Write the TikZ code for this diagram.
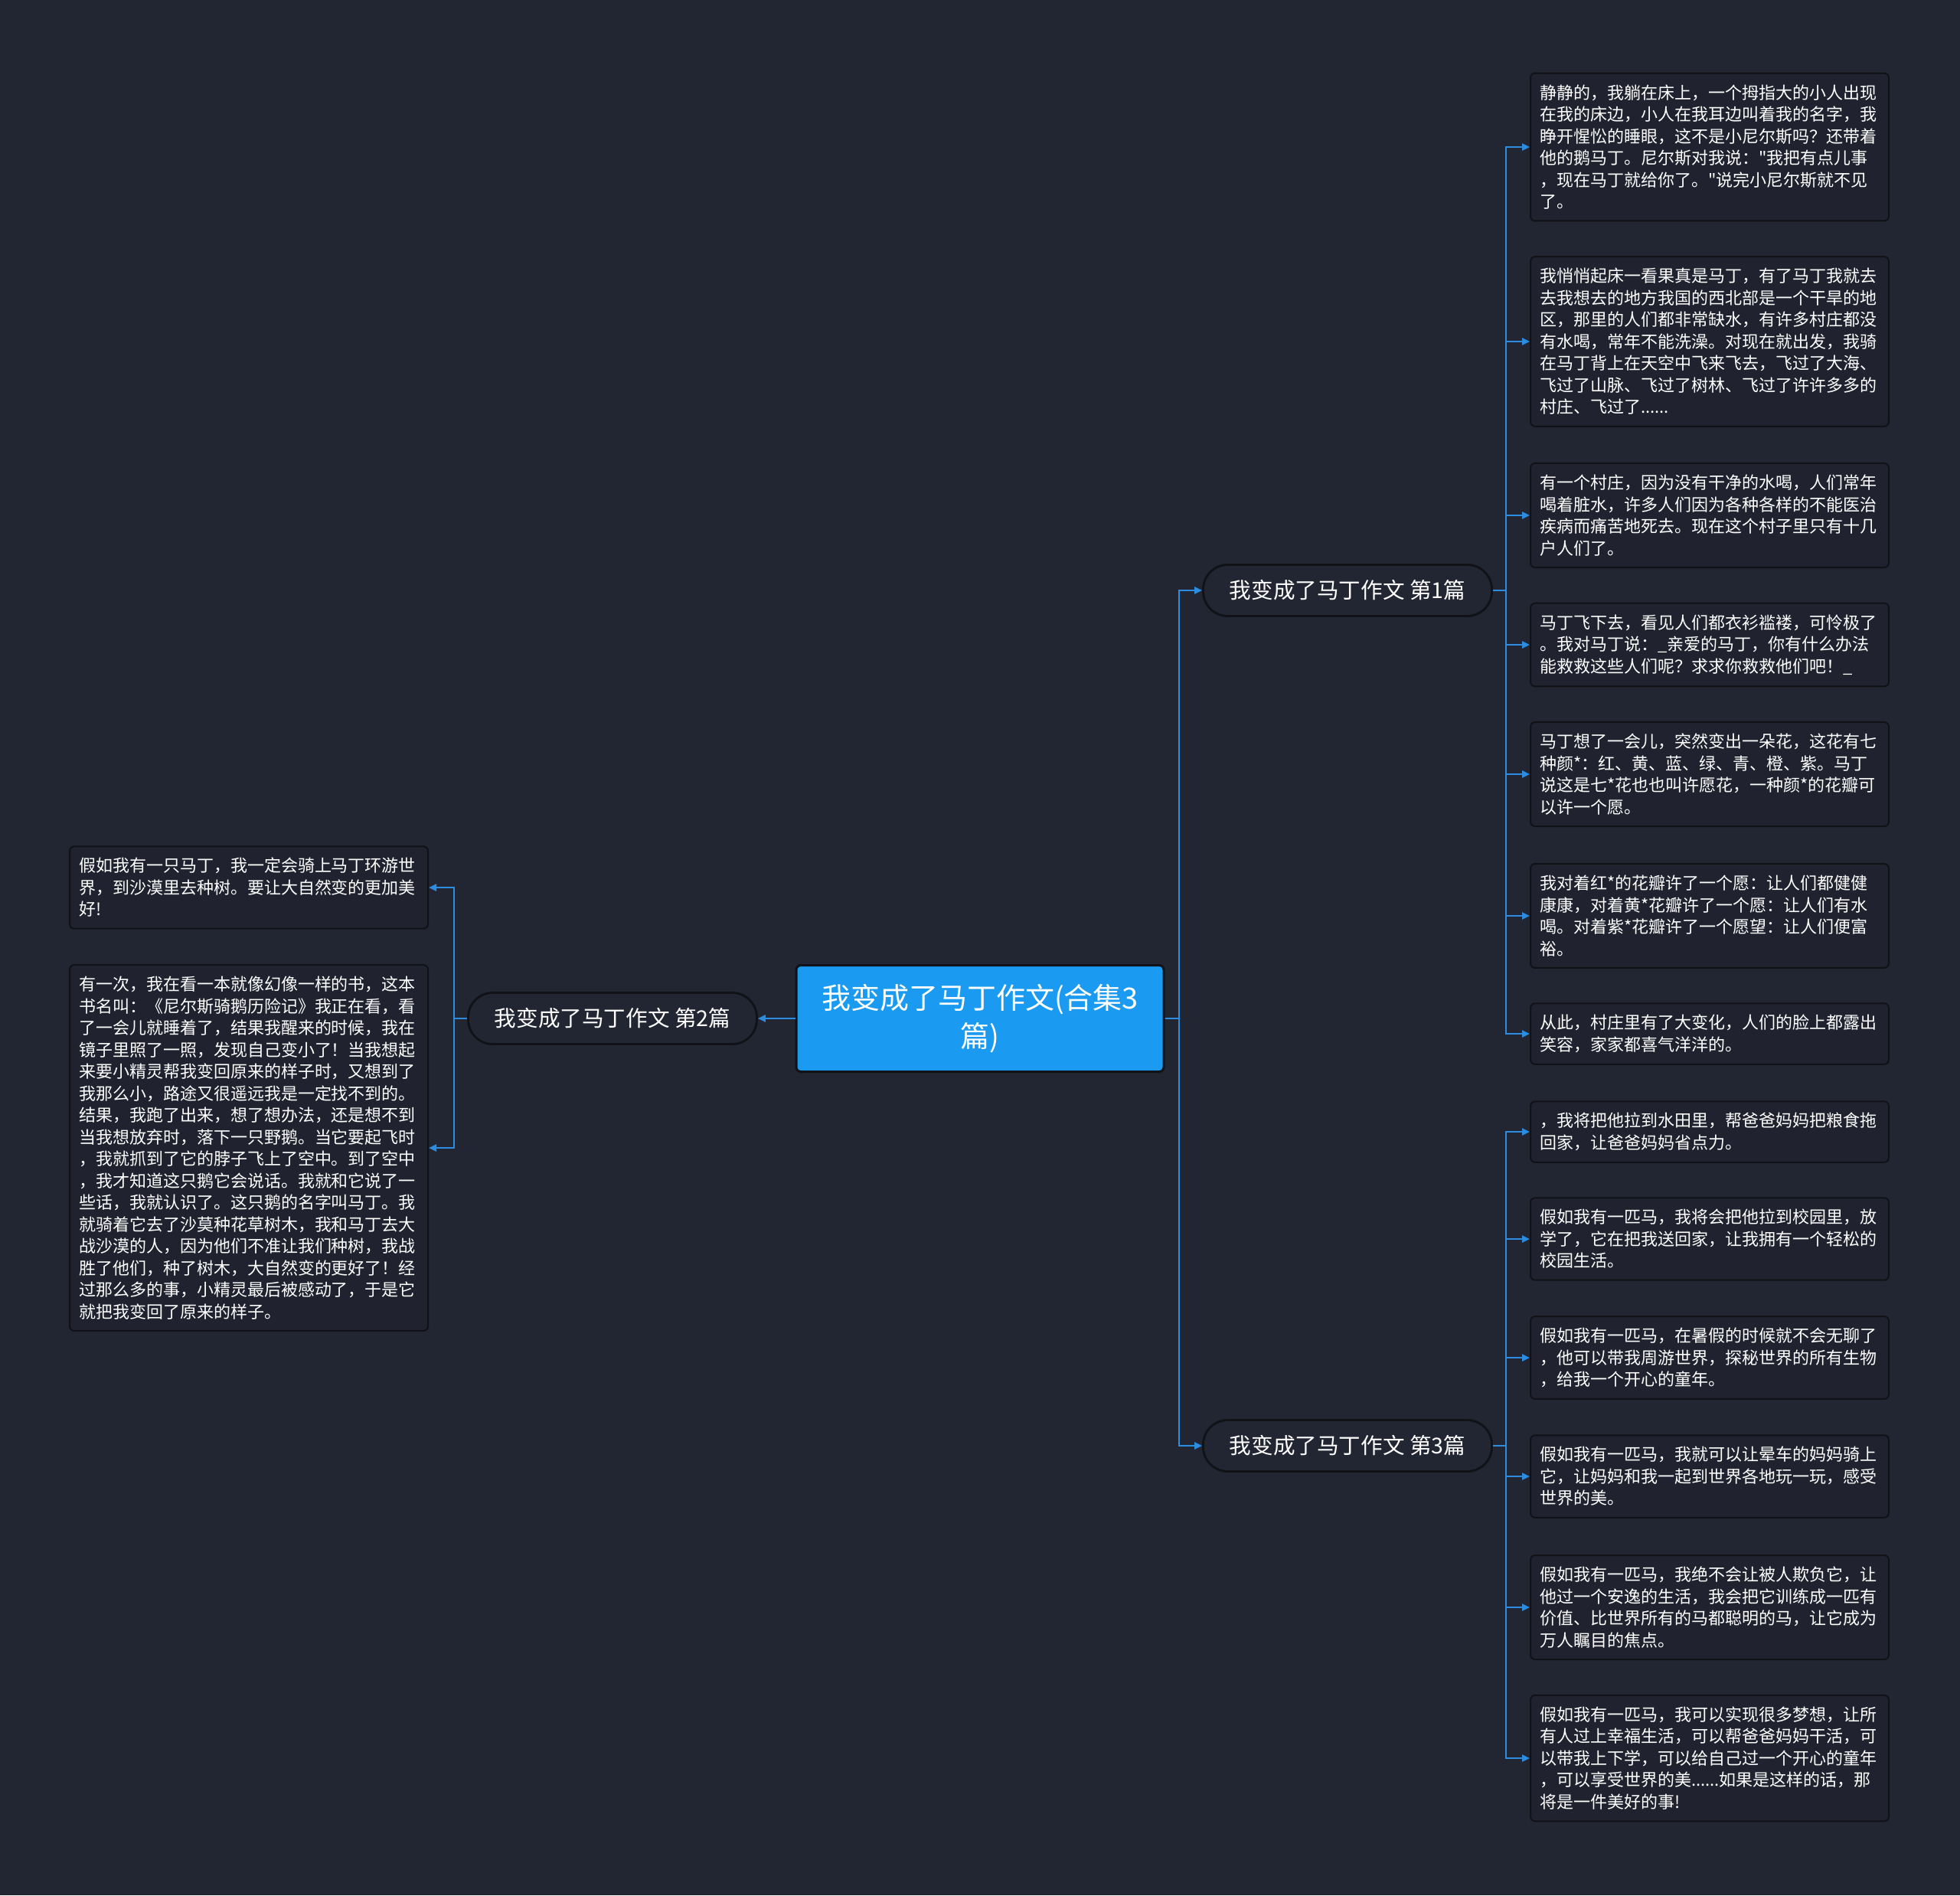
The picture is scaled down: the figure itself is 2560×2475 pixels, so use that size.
\documentclass[tikz,border=0pt]{standalone}
\usepackage{fontspec}
\setmainfont{Noto Sans CJK SC}[Ligatures = TeXOff]
\usetikzlibrary{arrows.meta}
\definecolor{canvas}{HTML}{222632}
\definecolor{leafbg}{HTML}{20232F}
\definecolor{edge}{HTML}{101217}
\definecolor{wire}{HTML}{2C8DE0}
\definecolor{rootblue}{HTML}{1A9AF0}
\tikzset{
    leaf/.style = {draw = edge, fill = leafbg, line width = 1pt, rounded corners = 3pt, text = white,
        text width = 222pt, inner xsep = 6pt, inner ysep = 7.5pt, align = left,
        font = \fontsize{11pt}{14.25pt}\selectfont},
    branch/.style = {draw = edge, fill = canvas, line width = 1.4pt, rounded corners = 16pt, text = white,
        minimum width = 188.5pt, minimum height = 33.5pt, inner sep = 0pt,
        font = \fontsize{14.3pt}{17pt}\selectfont},
    rootbox/.style = {draw = edge, fill = rootblue, line width = 1.5pt, rounded corners = 3pt, text = white,
        minimum width = 240pt, minimum height = 69.5pt, text width = 220pt, align = center,
        font = \fontsize{19pt}{25pt}\selectfont},
    trunk/.style = {draw = wire, line width = 1.2pt},
    link/.style = {trunk, -{Triangle[length = 5pt, width = 4.5pt]}}
}
\begin{document}
\begin{tikzpicture}[x = 0.5pt, y = -0.5pt]
        \fill[canvas] (0, 0) rectangle (2560, 2475);
        \useasboundingbox (0, 0) rectangle (2560, 2475);
        \node[rootbox] (root) at (1280, 1330) {我变成了马丁作文(合集3\\篇)};
        \node[branch] (b1) at (1760, 771) {我变成了马丁作文 第1篇};
        \node[branch] (b2) at (800, 1330) {我变成了马丁作文 第2篇};
        \node[branch] (b3) at (1760, 1888) {我变成了马丁作文 第3篇};
        \node[leaf, anchor = west] (r1) at (1998, 192) {静静的，我躺在床上，一个拇指大的小人出现\\在我的床边，小人在我耳边叫着我的名字，我\\睁开惺忪的睡眼，这不是小尼尔斯吗？还带着\\他的鹅马丁。尼尔斯对我说："我把有点儿事\\，现在马丁就给你了。"说完小尼尔斯就不见\\了。};
        \node[leaf, anchor = west] (r2) at (1998, 446) {我悄悄起床一看果真是马丁，有了马丁我就去\\去我想去的地方我国的西北部是一个干旱的地\\区，那里的人们都非常缺水，有许多村庄都没\\有水喝，常年不能洗澡。对现在就出发，我骑\\在马丁背上在天空中飞来飞去，飞过了大海、\\飞过了山脉、飞过了树林、飞过了许许多多的\\村庄、飞过了......};
        \node[leaf, anchor = west] (r3) at (1998, 673) {有一个村庄，因为没有干净的水喝，人们常年\\喝着脏水，许多人们因为各种各样的不能医治\\疾病而痛苦地死去。现在这个村子里只有十几\\户人们了。};
        \node[leaf, anchor = west] (r4) at (1998, 842) {马丁飞下去，看见人们都衣衫褴褛，可怜极了\\。我对马丁说：\_亲爱的马丁，你有什么办法\\能救救这些人们呢？求求你救救他们吧！\_};
        \node[leaf, anchor = west] (r5) at (1998, 1011) {马丁想了一会儿，突然变出一朵花，这花有七\\种颜*：红、黄、蓝、绿、青、橙、紫。马丁\\说这是七*花也也叫许愿花，一种颜*的花瓣可\\以许一个愿。};
        \node[leaf, anchor = west] (r6) at (1998, 1196) {我对着红*的花瓣许了一个愿：让人们都健健\\康康，对着黄*花瓣许了一个愿：让人们有水\\喝。对着紫*花瓣许了一个愿望：让人们便富\\裕。};
        \node[leaf, anchor = west] (r7) at (1998, 1350) {从此，村庄里有了大变化，人们的脸上都露出\\笑容，家家都喜气洋洋的。};
        \node[leaf, anchor = west] (r8) at (1998, 1478) {，我将把他拉到水田里，帮爸爸妈妈把粮食拖\\回家，让爸爸妈妈省点力。};
        \node[leaf, anchor = west] (r9) at (1998, 1618) {假如我有一匹马，我将会把他拉到校园里，放\\学了，它在把我送回家，让我拥有一个轻松的\\校园生活。};
        \node[leaf, anchor = west] (r10) at (1998, 1773) {假如我有一匹马，在暑假的时候就不会无聊了\\，他可以带我周游世界，探秘世界的所有生物\\，给我一个开心的童年。};
        \node[leaf, anchor = west] (r11) at (1998, 1928) {假如我有一匹马，我就可以让晕车的妈妈骑上\\它，让妈妈和我一起到世界各地玩一玩，感受\\世界的美。};
        \node[leaf, anchor = west] (r12) at (1998, 2099) {假如我有一匹马，我绝不会让被人欺负它，让\\他过一个安逸的生活，我会把它训练成一匹有\\价值、比世界所有的马都聪明的马，让它成为\\万人瞩目的焦点。};
        \node[leaf, anchor = west] (r13) at (1998, 2296) {假如我有一匹马，我可以实现很多梦想，让所\\有人过上幸福生活，可以帮爸爸妈妈干活，可\\以带我上下学，可以给自己过一个开心的童年\\，可以享受世界的美......如果是这样的话，那\\将是一件美好的事!};
        \node[leaf, anchor = east] (l1) at (560, 1159) {假如我有一只马丁，我一定会骑上马丁环游世\\界，到沙漠里去种树。要让大自然变的更加美\\好!};
        \node[leaf, anchor = east] (l2) at (560, 1499) {有一次，我在看一本就像幻像一样的书，这本\\书名叫：《尼尔斯骑鹅历险记》我正在看，看\\了一会儿就睡着了，结果我醒来的时候，我在\\镜子里照了一照，发现自己变小了！当我想起\\来要小精灵帮我变回原来的样子时，又想到了\\我那么小，路途又很遥远我是一定找不到的。\\结果，我跑了出来，想了想办法，还是想不到\\当我想放弃时，落下一只野鹅。当它要起飞时\\，我就抓到了它的脖子飞上了空中。到了空中\\，我才知道这只鹅它会说话。我就和它说了一\\些话，我就认识了。这只鹅的名字叫马丁。我\\就骑着它去了沙莫种花草树木，我和马丁去大\\战沙漠的人，因为他们不准让我们种树，我战\\胜了他们，种了树木，大自然变的更好了！经\\过那么多的事，小精灵最后被感动了，于是它\\就把我变回了原来的样子。};
        \coordinate (rj) at (1540, 1330);
        \coordinate (lj) at (593, 1330);
        \coordinate (j1) at (1967, 771);
        \coordinate (j3) at (1967, 1888);
        \draw[trunk] (root.east) -- (rj);
        \draw[link] (rj) |- (b1.west);
        \draw[link] (rj) |- (b3.west);
        \draw[link] (root.west) -- (b2.east);
        \draw[trunk] (b2.west) -- (lj);
        \foreach \k in {1, 2}{
            \draw[link] (lj) |- (l\k.east);
        }
        \draw[trunk] (b1.east) -- (j1);
        \foreach \k in {1, ..., 7}{
            \draw[link] (j1) |- (r\k.west);
        }
        \draw[trunk] (b3.east) -- (j3);
        \foreach \k in {8, ..., 13}{
            \draw[link] (j3) |- (r\k.west);
        }
    \end{tikzpicture}
\end{document}
